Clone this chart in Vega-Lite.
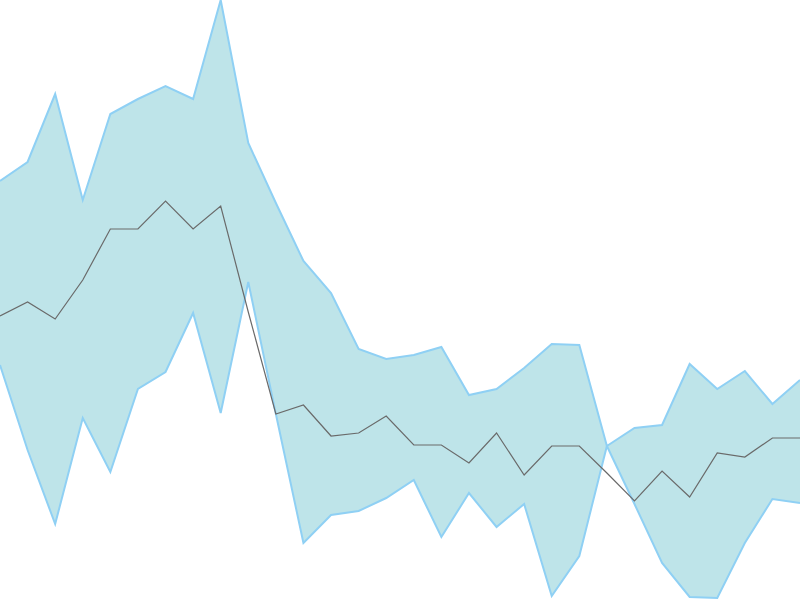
{
  "$schema": "https://vega.github.io/schema/vega-lite/v6.json",
  "autosize": {"type": "none"},
  "width": 800,
  "height": 600,
  "padding": 0,
  "background": "white",
  "config": {"view": {"stroke": null}},
  "data": {
    "values": [
      {"i": 0, "hi": 419, "mid": 284, "lo": 235},
      {"i": 1, "hi": 438, "mid": 298, "lo": 150},
      {"i": 2, "hi": 506, "mid": 281, "lo": 76},
      {"i": 3, "hi": 400, "mid": 320, "lo": 182},
      {"i": 4, "hi": 486, "mid": 371, "lo": 128},
      {"i": 5, "hi": 501, "mid": 371, "lo": 211},
      {"i": 6, "hi": 514, "mid": 399, "lo": 228},
      {"i": 7, "hi": 501, "mid": 371, "lo": 287},
      {"i": 8, "hi": 600, "mid": 394, "lo": 187},
      {"i": 9, "hi": 457, "mid": 288, "lo": 318},
      {"i": 10, "hi": 397, "mid": 186, "lo": 186},
      {"i": 11, "hi": 339, "mid": 195, "lo": 57},
      {"i": 12, "hi": 307, "mid": 164, "lo": 85},
      {"i": 13, "hi": 251, "mid": 167, "lo": 89},
      {"i": 14, "hi": 241, "mid": 184, "lo": 102},
      {"i": 15, "hi": 245, "mid": 155, "lo": 120},
      {"i": 16, "hi": 253, "mid": 155, "lo": 63},
      {"i": 17, "hi": 205, "mid": 137, "lo": 107},
      {"i": 18, "hi": 211, "mid": 167, "lo": 73},
      {"i": 19, "hi": 232, "mid": 125, "lo": 96},
      {"i": 20, "hi": 256, "mid": 154, "lo": 4},
      {"i": 21, "hi": 255, "mid": 154, "lo": 44},
      {"i": 22, "hi": 154, "mid": 127, "lo": 154},
      {"i": 23, "hi": 172, "mid": 99, "lo": 96},
      {"i": 24, "hi": 175, "mid": 129, "lo": 37},
      {"i": 25, "hi": 236, "mid": 103, "lo": 3},
      {"i": 26, "hi": 211, "mid": 147, "lo": 2},
      {"i": 27, "hi": 229, "mid": 143, "lo": 57},
      {"i": 28, "hi": 196, "mid": 162, "lo": 101},
      {"i": 29, "hi": 220, "mid": 162, "lo": 97}
    ]
  },
  "encoding": {
    "x": {
      "field": "i",
      "type": "quantitative",
      "axis": null,
      "scale": {"domain": [0, 29], "nice": false, "zero": false}
    }
  },
  "layer": [
    {
      "mark": {"type": "area", "color": "#bee4e9", "opacity": 1},
      "encoding": {
        "y": {"field": "hi", "type": "quantitative", "axis": null, "scale": {"domain": [0, 600], "nice": false}},
        "y2": {"field": "lo"}
      }
    },
    {
      "mark": {"type": "line", "color": "#8fd0f4", "strokeWidth": 2},
      "encoding": {"y": {"field": "hi", "type": "quantitative"}}
    },
    {
      "mark": {"type": "line", "color": "#8fd0f4", "strokeWidth": 2},
      "encoding": {"y": {"field": "lo", "type": "quantitative"}}
    },
    {
      "mark": {"type": "line", "color": "#6a6a6a", "strokeWidth": 1.2},
      "encoding": {"y": {"field": "mid", "type": "quantitative"}}
    }
  ]
}
